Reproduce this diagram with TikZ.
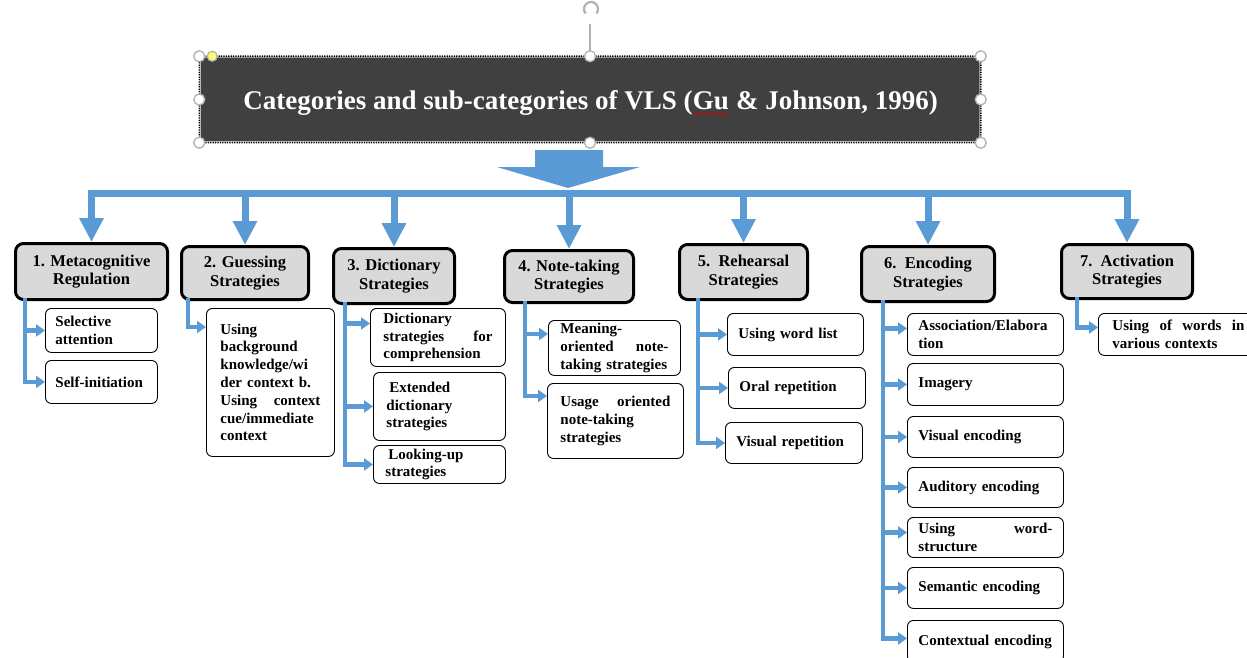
\documentclass[tikz,border=0pt]{standalone}
\usepackage{fontspec}
\setmainfont{Liberation Serif}
\usetikzlibrary{arrows.meta,decorations.pathmorphing,calc}

\definecolor{flowblue}{HTML}{5B9BD5}
\definecolor{catfill}{HTML}{D9D9D9}
\definecolor{titlefill}{HTML}{404040}

\newsavebox\ttlbox
\newcommand\ttlfont{\bfseries\fontsize{27}{30}\selectfont}

% sub-strategy box: name, x, y (top left), width, height, side padding, text
\newcommand\subbox[7]{%
  \pgfmathsetmacro\sbtw{#4-2*#6}%
  \node[subbox, minimum width=#4pt, minimum height=#5pt, inner xsep=#6pt,
        text width=\sbtw pt] (#1) at (#2,#3) {#7};}

% category box: name, x, y (top left), width, height, text
\newcommand\catbox[6]{%
  \node[catbox, minimum width=#4pt, minimum height=#5pt] (#1) at (#2,#3) {#6};}

\tikzset{
  subbox/.style={draw=black, line width=0.9pt, rounded corners=6pt, fill=white,
    anchor=north west, align=left, inner ysep=2pt,
    font=\bfseries\fontsize{15}{17.8}\selectfont},
  catbox/.style={draw=black, line width=3pt, rounded corners=8pt, fill=catfill,
    anchor=north west, align=center, inner sep=2pt,
    font=\bfseries\fontsize{16.5}{18.5}\selectfont},
  barline/.style={flowblue, line width=7pt, line cap=rect},
  drop/.style={flowblue, line width=7pt,
    -{Triangle[length=24pt,width=23pt]}},
  branch/.style={flowblue, line width=4.5pt, line join=miter,
    -{Triangle[length=9pt,width=12pt]}},
  handle/.style={draw=gray!60, line width=1.3pt, fill=white},
  ttext/.style={inner sep=0pt, anchor=base west, text=white, font=\ttlfont}
}

\begin{document}
\sbox\ttlbox{\ttlfont Categories and sub-categories of VLS (Gu \& Johnson, 1996)}%
\begin{tikzpicture}[x=1pt,y=-1pt]
\useasboundingbox (0,0) rectangle (1247,658);
\fill[white] (0,0) rectangle (1247,658);

% ---- title banner ----
\node[draw=gray!45, line width=1.5pt, fill=titlefill, rounded corners=6pt,
      minimum width=780pt, minimum height=85pt, inner sep=0pt] (title) at (590,99.5) {};
\draw[black, line width=1.5pt, dash pattern=on 1.2pt off 1.2pt, rounded corners=6pt]
  (title.north west) rectangle (title.south east);

\pgfmathsetmacro\ttlhalf{0.5*\wd\ttlbox}
\coordinate (tstart) at ([xshift=-\ttlhalf pt, yshift=-10.5pt]title.center);
\node[ttext] (tA) at (tstart) {Categories and sub-categories of VLS (};
\node[ttext] (gu) at (tA.base east) {Gu};
\node[ttext] (tC) at (gu.base east) {~\& Johnson, 1996)};
\draw[red!80!black, line width=0.6pt, decorate,
      decoration={snake, amplitude=0.7pt, segment length=2.5pt}]
  ([yshift=-4pt]gu.base west) -- ([yshift=-4pt]gu.base east);

% selection handles of the banner
\draw[gray!60, line width=1.2pt] (title.north) -- ++(0,-32);
\draw[gray!60, line width=2.2pt] (591,9) ++(-40:7pt) arc[start angle=-40, end angle=220, radius=7pt];
\foreach \p in {north west, north, north east, west, east, south west, south, south east}
  \draw[handle] (title.\p) circle (5.5pt);
\draw[draw=gray!60, line width=1.2pt, fill=yellow!55!white] ([xshift=13pt]title.north west) circle (5pt);

% ---- block arrow under the banner ----
\fill[flowblue] (535,150) -- (603,150) -- (603,167) -- (640,167) -- (568,188)
  -- (497,167) -- (535,167) -- cycle;

% ---- categories ----
\catbox{c1}{14}{242}{152}{56}{1. Metacognitive\\Regulation}
\catbox{c2}{180}{245}{127}{53}{2. Guessing\\Strategies}
\catbox{c3}{332}{247}{121}{55}{3. Dictionary\\Strategies}
\catbox{c4}{503}{249}{129}{52}{4. Note-taking\\Strategies}
\catbox{c5}{678}{243}{128}{55}{5.~~Rehearsal\\Strategies}
\catbox{c6}{860}{245}{133}{55}{6.~~Encoding\\Strategies}
\catbox{c7}{1060}{243}{131}{54}{7.~~Activation\\Strategies}

\coordinate (bar) at (0,193);
\draw[barline] (c1.north |- bar) -- (c7.north |- bar);
\foreach \c in {c1,c2,c3,c4,c5,c6,c7}
  \draw[drop] (\c.north |- bar) -- (\c.north);

% ---- sub-strategies ----
\subbox{a11}{45}{308}{112}{44}{10}{Selective\\attention}
\subbox{a12}{45}{360}{112}{43}{10}{Self-initiation}

\subbox{a21}{206}{308}{128}{148}{14}{Using\\background\\knowledge/wi\\der context b.\\Using\hfill context\\cue/immediate\\context}

\subbox{a31}{370}{308}{135}{58}{13}{Dictionary\\strategies\hfill for\\comprehension}
\subbox{a32}{373}{372}{132}{68}{13}{\hspace{3pt}Extended\\dictionary\\strategies}
\subbox{a33}{373}{445}{132}{38}{12}{\hspace{3pt}Looking-up\\strategies}

\subbox{a41}{548}{320}{132}{55}{12}{Meaning-\\oriented\hfill note-\\taking strategies}
\subbox{a42}{547}{383}{136}{75}{13}{Usage\hfill oriented\\note-taking\\strategies}

\subbox{a51}{727}{313}{136}{42}{11}{Using word list}
\subbox{a52}{728}{367}{137}{41}{11}{Oral repetition}
\subbox{a53}{725}{422}{137}{41}{11}{Visual repetition}

\subbox{a61}{907}{313}{156}{42}{11}{Association/Elabora\\tion}
\subbox{a62}{907}{363}{156}{42}{11}{Imagery}
\subbox{a63}{907}{416}{156}{41}{11}{Visual encoding}
\subbox{a64}{907}{467}{156}{40}{11}{Auditory encoding}
\subbox{a65}{907}{517}{156}{40}{11}{Using\hfill word-\\structure}
\subbox{a66}{907}{567}{156}{41}{11}{Semantic encoding}
\subbox{a67}{907}{620}{156}{42}{11}{Contextual encoding}

\subbox{a71}{1098}{313}{160}{42}{14}{Using\hfill of\hfill words\hfill in\\various contexts}

% ---- spines and branch arrows ----
\coordinate (s1) at (25,298);
\coordinate (s2) at (188,298);
\coordinate (s3) at (345,302);
\coordinate (s4) at (525,301);
\coordinate (s5) at (698,298);
\coordinate (s6) at (883,300);
\coordinate (s7) at (1077,297);

\coordinate (t21) at ([yshift=-19pt]a21.north west);
\coordinate (t31) at ([yshift=14pt]a31.west);
\coordinate (t41) at ([yshift=14pt]a41.west);
\coordinate (t42) at ([yshift=25pt]a42.west);
\coordinate (t61) at ([yshift=6pt]a61.west);
\coordinate (t65) at ([yshift=5pt]a65.west);
\coordinate (t67) at ([yshift=3pt]a67.west);
\coordinate (t71) at ([yshift=7pt]a71.west);

\draw[branch] (s1) |- (a12.west);
\draw[branch] (s1 |- a11.west) -- (a11.west);

\draw[branch] (s2) |- (t21);

\draw[branch] (s3) |- (a33.west);
\draw[branch] (s3 |- t31) -- (t31);
\draw[branch] (s3 |- a32.west) -- (a32.west);

\draw[branch] (s4) |- (t42);
\draw[branch] (s4 |- t41) -- (t41);

\draw[branch] (s5) |- (a53.west);
\draw[branch] (s5 |- a51.west) -- (a51.west);
\draw[branch] (s5 |- a52.west) -- (a52.west);

\draw[branch] (s6) |- (t67);
\draw[branch] (s6 |- t61) -- (t61);
\foreach \n in {a62,a63,a64,a66}
  \draw[branch] (s6 |- \n.west) -- (\n.west);
\draw[branch] (s6 |- t65) -- (t65);

\draw[branch] (s7) |- (t71);
\end{tikzpicture}
\end{document}
